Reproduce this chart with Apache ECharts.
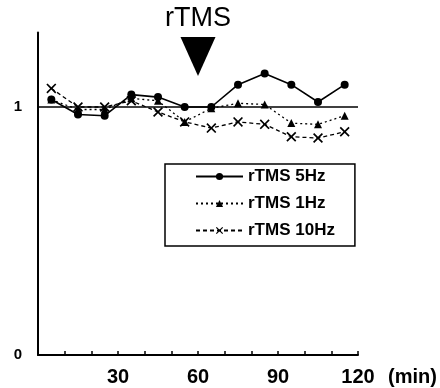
<!DOCTYPE html>
<html>
<head>
<meta charset="utf-8">
<script src="https://cdn.jsdelivr.net/npm/echarts@6/dist/echarts.min.js"></script>
<style>
  html, body { margin: 0; padding: 0; background: #fff; }
  #chart { width: 440px; height: 388px; }
</style>
</head>
<body>
<div id="chart"></div>
<script>
// Sampling times (min)
const times = [5, 15, 25, 35, 45, 55, 65, 75, 85, 95, 105, 115];
// Normalised responses per stimulation frequency
const rtms5Hz  = [1.03, 0.97, 0.965, 1.05, 1.04, 1.0, 1.0, 1.09, 1.135, 1.09, 1.02, 1.09];
const rtms1Hz  = [1.03, 0.99, 0.99, 1.035, 1.025, 0.94, 0.995, 1.015, 1.01, 0.935, 0.93, 0.965];
const rtms10Hz = [1.075, 1.0, 1.0, 1.025, 0.98, 0.94, 0.915, 0.94, 0.93, 0.88, 0.875, 0.9];
const seriesNames = ['rTMS 5Hz', 'rTMS 1Hz', 'rTMS 10Hz'];
const xTickLabels = [30, 60, 90, 120];
const yTickLabels = [0, 1];
// Stimulation onset marker
const stimTime = 60;
const stimLabel = 'rTMS';
const baseline = 1;

const FONT = 'Liberation Sans, Arial, sans-serif';
const crossPath = 'path://M0,1.2 L1.2,0 L5,3.8 L8.8,0 L10,1.2 L6.2,5 L10,8.8 L8.8,10 L5,6.2 L1.2,10 L0,8.8 L3.8,5 Z';

const pairs = arr => times.map((t, i) => [t, arr[i]]);

const chart = echarts.init(document.getElementById('chart'), null, { renderer: 'canvas' });

chart.setOption({
  backgroundColor: '#fff',
  animation: false,
  grid: { left: 38, right: 82, top: 32.6, bottom: 33 },
  legend: {
    orient: 'vertical',
    left: 165,
    top: 164,
    padding: [4, 20, 7, 30],
    itemGap: 10,
    itemWidth: 47,
    itemHeight: 9,
    borderColor: '#000',
    borderWidth: 1.5,
    borderRadius: 0,
    textStyle: { fontFamily: FONT, fontSize: 17, fontWeight: 'bold', color: '#000' },
    data: seriesNames
  },
  xAxis: {
    type: 'value',
    min: 0,
    max: 120,
    interval: 10,
    name: '(min)',
    nameLocation: 'end',
    nameGap: 30,
    nameTextStyle: {
      fontFamily: FONT, fontSize: 20, fontWeight: 'bold', color: '#000',
      verticalAlign: 'top', padding: [12, 0, 0, 0]
    },
    axisLine: { lineStyle: { color: '#000', width: 2 } },
    axisTick: { inside: true, length: 4, lineStyle: { color: '#000', width: 1.5 } },
    splitLine: { show: false },
    axisLabel: {
      margin: 12,
      fontFamily: FONT, fontSize: 20, fontWeight: 'bold', color: '#000',
      formatter: v => (xTickLabels.indexOf(v) >= 0 ? String(v) : '')
    }
  },
  yAxis: {
    type: 'value',
    min: 0,
    max: 1.3,
    interval: 1,
    axisLine: { show: true, lineStyle: { color: '#000', width: 2 } },
    axisTick: { show: false },
    splitLine: { show: false },
    axisLabel: {
      margin: 16,
      showMaxLabel: false,
      fontFamily: FONT, fontSize: 15, fontWeight: 'bold', color: '#000',
      formatter: v => (yTickLabels.indexOf(v) >= 0 ? String(v) : '')
    }
  },
  series: [
    {
      name: seriesNames[0],
      type: 'line',
      data: pairs(rtms5Hz),
      symbol: 'circle',
      symbolSize: 8,
      itemStyle: { color: '#000' },
      lineStyle: { color: '#000', width: 1.6, type: 'solid' },
      z: 3,
      markLine: {
        silent: true,
        symbol: 'none',
        label: { show: false },
        lineStyle: { color: '#000', width: 1.6, type: 'solid' },
        data: [{ yAxis: baseline }]
      },
      markPoint: {
        symbol: 'triangle',
        symbolRotate: 180,
        symbolSize: [35, 39],
        itemStyle: { color: '#000' },
        label: {
          show: true,
          position: 'top',
          distance: 5,
          formatter: stimLabel,
          fontFamily: FONT,
          fontSize: 27,
          color: '#000'
        },
        data: [{ coord: [stimTime, 1.204] }]
      }
    },
    {
      name: seriesNames[1],
      type: 'line',
      data: pairs(rtms1Hz),
      symbol: 'triangle',
      symbolSize: 8,
      itemStyle: { color: '#000' },
      lineStyle: { color: '#000', width: 1.3, type: [2, 3] },
      z: 2
    },
    {
      name: seriesNames[2],
      type: 'line',
      data: pairs(rtms10Hz),
      symbol: crossPath,
      symbolSize: 10,
      itemStyle: { color: '#000' },
      lineStyle: { color: '#000', width: 1.3, type: [4, 3] },
      z: 2
    }
  ]
});
</script>
</body>
</html>
